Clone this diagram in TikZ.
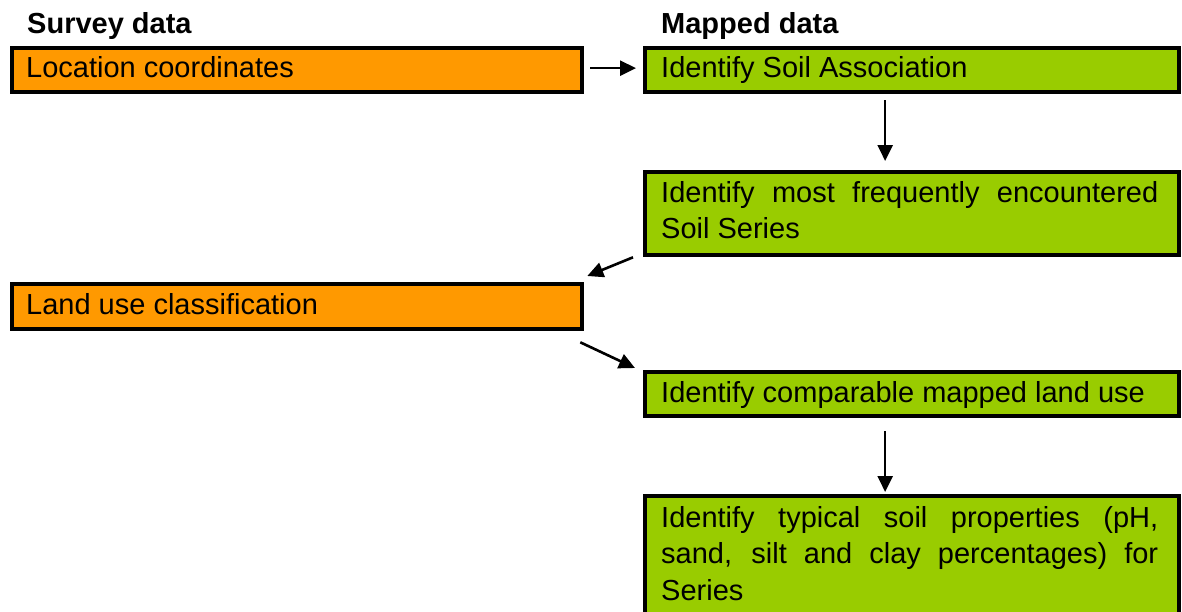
\documentclass[tikz,border=0pt]{standalone}
\usepackage{fontspec}
\setmainfont{Liberation Sans}
\usetikzlibrary{arrows.meta,calc}
\definecolor{boxorange}{HTML}{FF9900}
\definecolor{boxgreen}{HTML}{99CC00}
\begin{document}
\begin{tikzpicture}[x=1pt,y=-1pt,
  obox/.style={rectangle,draw=black,line width=4.3pt,fill=boxorange,inner sep=0pt,anchor=north west},
  gbox/.style={rectangle,draw=black,line width=4.3pt,fill=boxgreen,inner sep=0pt,anchor=north west},
  txt/.style={inner sep=0pt,anchor=base west,font=\fontsize{29}{36.7}\selectfont},
  head/.style={inner sep=0pt,anchor=base west,font=\bfseries\fontsize{29}{36.7}\selectfont},
  jtxt/.style={txt,text width=497pt,align=justify},
  arr/.style={line width=2.6pt,-{Triangle[length=16pt,width=15pt]}}]
\clip (0,0) rectangle (1182,611);
\fill[white] (0,0) rectangle (1182,611);
% boxes
\node[obox,minimum width=570pt,minimum height=44pt] (o1) at (10,46) {};
\node[gbox,minimum width=534pt,minimum height=44pt] (g1) at (643,46) {};
\node[gbox,minimum width=534pt,minimum height=83pt] (g2) at (643,170) {};
\node[obox,minimum width=570pt,minimum height=45pt] (o2) at (10,282) {};
\node[gbox,minimum width=534pt,minimum height=44pt] (g3) at (643,370) {};
\node[gbox,minimum width=534pt,minimum height=160pt] (g4) at (643,494) {};
% headings
\node[head] (h1) at (27,33) {Survey data};
\node[head] (h2) at (661,33) {Mapped data};
% texts
\node[txt] (t1) at (26,77) {Location coordinates};
\node[txt] (t2) at (661,77) {Identify Soil Association};
\node[jtxt] (t3) at (661,202) {Identify most frequently encountered\linebreak Soil Series};
\node[txt] (t4) at (26,314) {Land use classification};
\node[txt] (t5) at (661,402) {Identify comparable mapped land use};
\node[jtxt] (t6) at (661,527) {Identify typical soil properties (pH,\linebreak sand, silt and clay percentages) for\linebreak Series};
% arrows
\draw[arr] ($(o1.east)+(6,-2)$) -- ($(g1.west)+(-7,-2)$);
\draw[arr] ($(g1.south)+(-27,6)$) -- ($(g2.north)+(-27,-9)$);
\draw[arr] ($(g2.south west)+(-10,0)$) -- ($(o2.north east)+(3,-6)$);
\draw[arr] ($(o2.south east)+(-4,11)$) -- ($(g3.north west)+(-8,-2)$);
\draw[arr] ($(g3.south)+(-27,13)$) -- ($(g4.north)+(-27,-2)$);
\end{tikzpicture}
\end{document}
